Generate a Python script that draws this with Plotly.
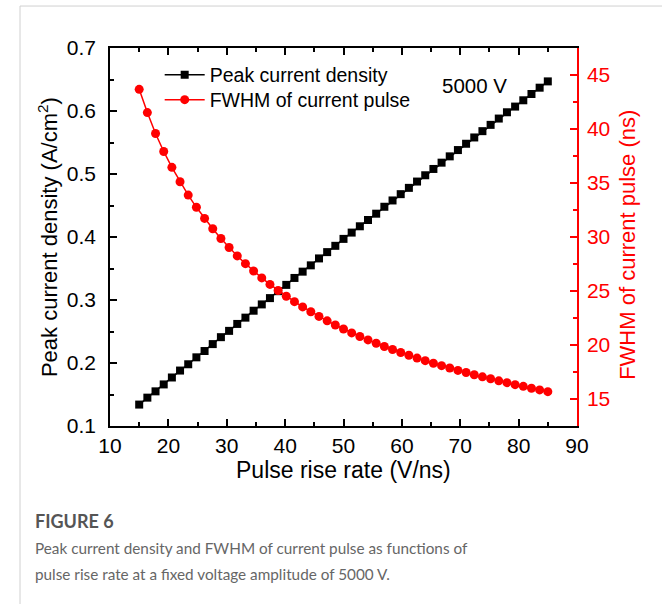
import plotly.graph_objects as go

# Pulse rise rate (V/ns)
rise_rate = [15.0, 16.4, 17.8, 19.2, 20.6, 22.0, 23.4, 24.8, 26.2, 27.6,
             29.0, 30.4, 31.8, 33.2, 34.6, 36.0, 37.4, 38.8, 40.2, 41.6,
             43.0, 44.4, 45.8, 47.2, 48.6, 50.0, 51.4, 52.8, 54.2, 55.6,
             57.0, 58.4, 59.8, 61.2, 62.6, 64.0, 65.4, 66.8, 68.2, 69.6,
             71.0, 72.4, 73.8, 75.2, 76.6, 78.0, 79.4, 80.8, 82.2, 83.6, 85.0]

# Peak current density (A/cm^2)
peak_density = [0.134, 0.145, 0.155, 0.166, 0.177, 0.188, 0.198, 0.209, 0.219, 0.230,
                0.241, 0.251, 0.262, 0.272, 0.283, 0.293, 0.303, 0.314, 0.324, 0.335,
                0.345, 0.355, 0.366, 0.376, 0.386, 0.397, 0.407, 0.417, 0.427, 0.437,
                0.448, 0.458, 0.468, 0.478, 0.488, 0.498, 0.508, 0.518, 0.528, 0.538,
                0.548, 0.558, 0.568, 0.578, 0.588, 0.598, 0.607, 0.617, 0.627, 0.637, 0.647]

# FWHM of current pulse (ns)
fwhm = [43.67, 41.52, 39.58, 37.92, 36.45, 35.12, 33.88, 32.75, 31.72, 30.76,
        29.86, 29.03, 28.25, 27.53, 26.85, 26.21, 25.61, 25.05, 24.51, 24.01,
        23.53, 23.08, 22.65, 22.24, 21.85, 21.48, 21.12, 20.79, 20.47, 20.16,
        19.86, 19.58, 19.31, 19.05, 18.79, 18.55, 18.31, 18.09, 17.87, 17.65,
        17.45, 17.25, 17.05, 16.87, 16.68, 16.51, 16.33, 16.17, 16.00, 15.84, 15.68]

left_ticks = [0.1, 0.2, 0.3, 0.4, 0.5, 0.6, 0.7]
right_ticks = [15, 20, 25, 30, 35, 40, 45]
x_ticks = [10, 20, 30, 40, 50, 60, 70, 80, 90]

FONT = "Arial, Liberation Sans, sans-serif"
RED = "#ff0000"
TICK_SIZE = 21
LEGEND_FONT = dict(size=19.5, family=FONT)

fig = go.Figure()
fig.add_trace(go.Scatter(
    x=rise_rate, y=peak_density, name="Peak current density",
    mode="lines+markers", legend="legend",
    line=dict(color="black", width=1.5),
    marker=dict(symbol="square", size=8, color="black"),
))
fig.add_trace(go.Scatter(
    x=rise_rate, y=fwhm, name="FWHM of current pulse", yaxis="y2",
    mode="lines+markers", legend="legend2",
    line=dict(color=RED, width=1.5),
    marker=dict(symbol="circle", size=9, color=RED),
))

fig.update_layout(
    width=662, height=604,
    margin=dict(l=110, r=85, t=48, b=178),
    paper_bgcolor="white", plot_bgcolor="white",
    font=dict(family=FONT, color="black"),
    showlegend=True,
    # one legend per series so the two rows sit close together
    legend=dict(x=0.1064, y=0.9286, xanchor="left", yanchor="middle",
                bgcolor="rgba(0,0,0,0)", font=LEGEND_FONT, itemwidth=40),
    legend2=dict(x=0.1064, y=0.8624, xanchor="left", yanchor="middle",
                 bgcolor="rgba(0,0,0,0)", font=LEGEND_FONT, itemwidth=40),
    xaxis=dict(
        range=[10, 90], tickvals=x_ticks, showgrid=False, zeroline=False,
        showline=True, linecolor="black", linewidth=1.5, mirror="ticks",
        ticks="inside", ticklen=7, tickwidth=1.5, tickcolor="black",
        tickfont=dict(size=TICK_SIZE, family=FONT),
        minor=dict(dtick=5, ticks="inside", ticklen=4, tickwidth=1.5, tickcolor="black"),
    ),
    yaxis=dict(
        range=[0.1, 0.7], tickvals=left_ticks, tickformat=".1f",
        showgrid=False, zeroline=False,
        showline=True, linecolor="black", linewidth=1.5,
        ticks="inside", ticklen=7, tickwidth=1.5, tickcolor="black",
        ticklabelstandoff=8,
        tickfont=dict(size=TICK_SIZE, family=FONT),
        minor=dict(dtick=0.05, ticks="inside", ticklen=4, tickwidth=1.5, tickcolor="black"),
    ),
    yaxis2=dict(
        range=[12.5, 47.5], tickvals=right_ticks, overlaying="y", side="right",
        showgrid=False, zeroline=False,
        showline=True, linecolor=RED, linewidth=1.5,
        ticks="inside", ticklen=7, tickwidth=1.5, tickcolor=RED,
        ticklabelstandoff=4,
        tickfont=dict(size=TICK_SIZE, family=FONT, color=RED),
        minor=dict(dtick=2.5, ticks="inside", ticklen=4, tickwidth=1.5, tickcolor=RED),
    ),
)

# Axis titles
fig.add_annotation(text="Pulse rise rate (V/ns)", xref="paper", yref="paper",
                   x=0.5, y=-0.116, xanchor="center", yanchor="middle",
                   showarrow=False, font=dict(size=23, family=FONT))
fig.add_annotation(text="Peak current density (A/cm<sup>2</sup>)", xref="paper", yref="paper",
                   x=-0.1326, y=0.5, xanchor="center", yanchor="middle", textangle=-90,
                   showarrow=False, font=dict(size=22, family=FONT))
fig.add_annotation(text="FWHM of current pulse (ns)", xref="paper", yref="paper",
                   x=1.109, y=0.479, xanchor="center", yanchor="middle", textangle=-90,
                   showarrow=False, font=dict(size=22, family=FONT, color=RED))
fig.add_annotation(text="5000 V", xref="paper", yref="paper",
                   x=0.7066, y=0.9, xanchor="left", yanchor="middle",
                   showarrow=False, font=dict(size=20.5, family=FONT))

# Caption
CAP = "Lato, Open Sans, sans-serif"
fig.add_annotation(text="<b>FIGURE 6</b>", xref="paper", yref="paper",
                   x=-0.165, y=-0.251, xanchor="left", yanchor="middle",
                   showarrow=False, font=dict(size=18, family=CAP, color="#555555"))
caption_lines = ["Peak current density and FWHM of current pulse as functions of",
                 "pulse rise rate at a fixed voltage amplitude of 5000 V."]
for line, ypos in zip(caption_lines, [-0.3228, -0.3915]):
    fig.add_annotation(text=line, xref="paper", yref="paper", x=-0.165, y=ypos,
                       xanchor="left", yanchor="middle", align="left",
                       showarrow=False, font=dict(size=15.3, family=CAP, color="#666666"))

# Card border
fig.add_shape(type="line", xref="paper", yref="paper", x0=-0.1927, x1=-0.1927,
              y0=1.111, y1=-0.48, line=dict(color="#d0d0d0", width=1))
fig.add_shape(type="line", xref="paper", yref="paper", x0=-0.1927, x1=1.2,
              y0=1.111, y1=1.111, line=dict(color="#d0d0d0", width=1))

fig.write_html("out.html")
